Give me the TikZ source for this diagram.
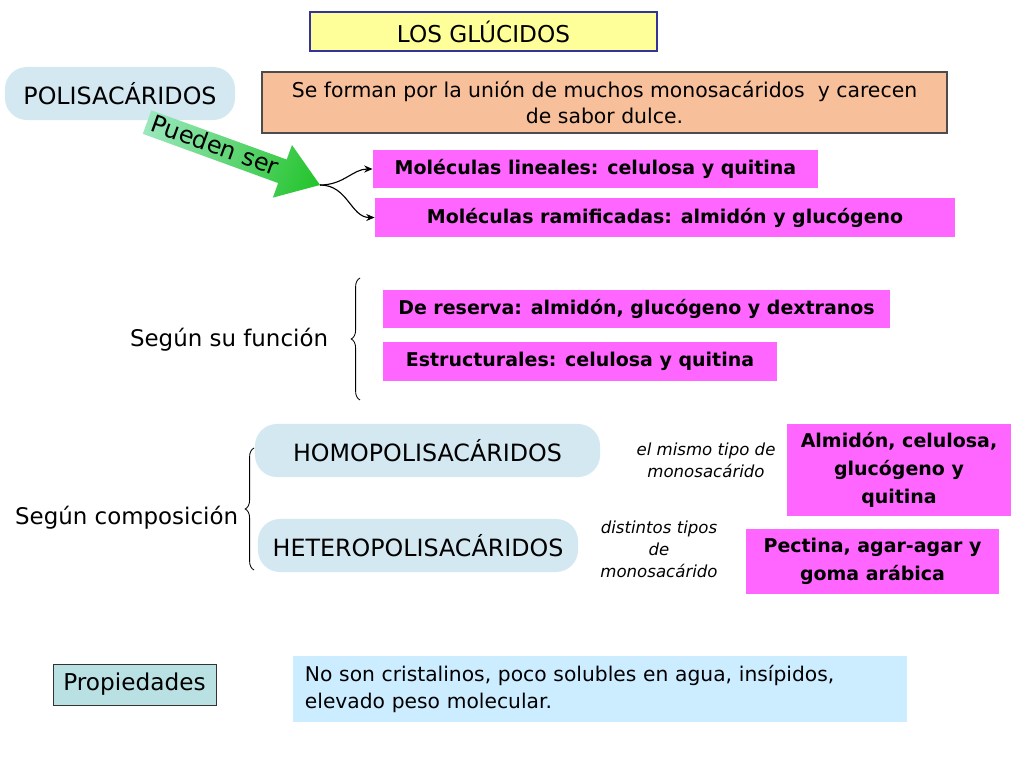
\documentclass[tikz,border=0pt]{standalone}
\usepackage{fontspec}
\setmainfont{DejaVu Sans}
\usetikzlibrary{positioning, arrows.meta, decorations.pathreplacing}

\definecolor{titleyellow}{HTML}{FFFF99}
\definecolor{titleblue}{HTML}{333399}
\definecolor{peach}{HTML}{F8BF9B}
\definecolor{magentabox}{HTML}{FF66FF}
\definecolor{paleblue}{HTML}{D3E8F1}
\definecolor{tealbox}{HTML}{B9E1E4}
\definecolor{skyblue}{HTML}{CCECFF}
\definecolor{mint}{HTML}{9BE8BE}
\definecolor{leafgreen}{HTML}{22C32A}

\begin{document}
\begin{tikzpicture}[
    x=0.025cm, y=-0.025cm,
    title/.style={draw=titleblue, line width=1.2pt, fill=titleyellow, minimum width=8.675cm, minimum height=0.975cm, font=\fontsize{16.5}{19}\selectfont},
    pill/.style={fill=paleblue, rounded corners=0.55cm, minimum height=1.325cm, font=\fontsize{16.9}{19}\selectfont},
    example/.style={fill=magentabox, minimum height=0.95cm, align=center, font=\bfseries\fontsize{13.5}{19.9}\selectfont},
    note/.style={align=center, font=\itshape\fontsize{11.8}{15.6}\selectfont},
    heading/.style={font=\fontsize{16.3}{20}\selectfont},
    bracket/.style={line width=0.6pt, decorate, decoration={brace, amplitude=0.22cm}}
]

    % Page
    \fill[white] (0,0) rectangle (1024,768);
    \useasboundingbox (0,0) rectangle (1024,768);

    % Title and definition
    \node[title] (glucidos) at (483.5,31.5) {LOS GLÚCIDOS};
    \node[pill, minimum width=5.75cm] (polisac) at (120,93.5) {POLISACÁRIDOS};
    \node[draw=black!70, line width=0.9pt, fill=peach, minimum width=17.125cm, minimum height=1.525cm, align=center, font=\fontsize{14.5}{19}\selectfont] (definicion) at (604.5,102.5) {Se forman por la unión de muchos monosacáridos\ \ y carecen\\de sabor dulce.};

    % Green arrow
    \coordinate (tip) at (320,185);
    \begin{scope}[transform canvas={shift={(320,185)}, rotate=-20}]
        \shade[left color=mint, right color=leafgreen] (-184,-12.5) -- (-40,-12.5) -- (-40,-28) -- (0,0) -- (-40,28) -- (-40,12.5) -- (-184,12.5) -- cycle;
        \node[font=\fontsize{17}{19}\selectfont] (pueden) at (-112,-2) {Pueden ser};
    \end{scope}

    % Shapes of the molecules
    \node[example, minimum width=11.125cm] (lineales) at (595.5,169) {Moléculas lineales: celulosa y quitina};
    \node[example, minimum width=14.5cm] (ramificadas) at (665,217.5) {Moléculas ramificadas: almidón y glucógeno};
    \draw[-{Stealth[length=6pt, width=5pt]}, line width=0.8pt] (tip) .. controls +(24,0) and +(-20,0) .. (lineales.west);
    \draw[-{Stealth[length=6pt, width=5pt]}, line width=0.8pt] (tip) .. controls +(28,0) and +(-24,0) .. (ramificadas.west);

    % By function
    \node[heading, anchor=east] (funcion) at (333,340) {Según su función};
    \draw[bracket] (360,400) -- (360,278);
    \node[example, minimum width=12.675cm] (reserva) at (636.5,309) {De reserva: almidón, glucógeno y dextranos};
    \node[example, minimum width=9.85cm] (estructurales) at (580,361.5) {Estructurales: celulosa y quitina};

    % By composition
    \node[heading, anchor=east] (composicion) at (243,518) {Según composición};
    \draw[bracket] (254,570) -- (254,448);
    \node[pill, minimum width=8.625cm] (homo) at (427.5,450.5) {HOMOPOLISACÁRIDOS};
    \node[pill, minimum width=8cm] (hetero) at (418,545.5) {HETEROPOLISACÁRIDOS};
    \node[note] (mismo) at (706,460) {el mismo tipo de\\monosacárido};
    \node[note] (distintos) at (659,549) {distintos tipos\\de\\monosacárido};
    \node[example, minimum width=5.6cm, minimum height=2.3cm] (homoej) at (899,470) {Almidón, celulosa,\\glucógeno y\\quitina};
    \node[example, minimum width=6.325cm, minimum height=1.625cm] (heteroej) at (872.5,561.5) {Pectina, agar-agar y\\goma arábica};

    % Properties
    \node[draw=black!80, line width=0.6pt, fill=tealbox, minimum width=4.075cm, minimum height=1.025cm, font=\fontsize{16.5}{20}\selectfont] (propiedades) at (134.5,684.5) {Propiedades};
    \node[fill=skyblue, text width=14.75cm, inner xsep=0.3cm, minimum height=1.65cm, align=left, font=\fontsize{14.4}{19.9}\selectfont] (caracteristicas) at (600,689) {No son cristalinos, poco solubles en agua, insípidos,\\elevado peso molecular.};

\end{tikzpicture}
\end{document}
